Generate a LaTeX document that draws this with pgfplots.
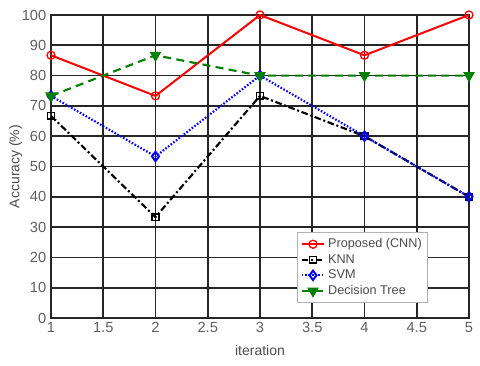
\documentclass[border=0pt]{standalone}
\usepackage{fontspec}
\setmainfont{Liberation Sans}
\usepackage{pgfplots}
\pgfplotsset{compat=1.18}
\definecolor{tickgray}{RGB}{95,95,95}
\definecolor{dtgreen}{RGB}{0,128,0}
\begin{document}
\begin{tikzpicture}[x=0.75pt,y=0.75pt]
\begin{axis}[
  scale only axis,
  width=313.5pt, height=227.25pt,
  xmin=1, xmax=5, ymin=0, ymax=100,
  xtick={1,1.5,2,2.5,3,3.5,4,4.5,5},
  xticklabels={1,1.5,2,2.5,3,3.5,4,4.5,5},
  ytick={0,10,...,100},
  grid=major,
  major grid style={black!85, line width=1.3pt},
  axis line style={black!85, line width=1.3pt},
  tick style={draw=none},
  /pgf/number format/assume math mode=true,
  tick label style={font=\fontsize{11}{13}\selectfont, text=tickgray},
  xlabel={iteration},
  ylabel={Accuracy (\%)},
  label style={font=\fontsize{10.5}{12}\selectfont, text=tickgray!80!black},
  xlabel style={at={(axis description cs:0.5,0)}, anchor=north, yshift=-17pt},
  ylabel style={at={(axis description cs:0,0.5)}, anchor=south, yshift=18pt},
  legend style={at={(rel axis cs:0.902,0.05)}, anchor=south east,
    font=\fontsize{9.5}{11}\selectfont, text=tickgray!80!black, draw=gray!60, fill=white,
    row sep=-0.5pt, inner sep=2.5pt},
  legend cell align=left,
]
\addplot[red, line width=1.5pt, mark=o, mark size=3pt, mark options={solid, line width=1pt}]
  coordinates {(1,86.7) (2,73.3) (3,100) (4,86.7) (5,100)};
\addlegendentry{Proposed (CNN)}
\addplot[black, line width=1.6pt, dash pattern=on 5pt off 2pt on 1.5pt off 2pt, mark=square, mark size=2.5pt, mark options={solid, line width=1.2pt}]
  coordinates {(1,66.7) (2,33.3) (3,73.3) (4,60) (5,40)};
\addlegendentry{KNN}
\addplot[blue, line width=1.6pt, dash pattern=on 1.2pt off 1.3pt, mark=diamond, mark size=3.5pt, mark options={solid, line width=1.5pt}]
  coordinates {(1,73.3) (2,53.3) (3,80) (4,60) (5,40)};
\addlegendentry{SVM}
\addplot[dtgreen, line width=1.6pt, dash pattern=on 6pt off 4pt, mark=triangle*, mark size=3.5pt, mark options={solid, rotate=180}]
  coordinates {(1,73.3) (2,86.7) (3,80) (4,80) (5,80)};
\addlegendentry{Decision Tree}
\end{axis}
\pgfresetboundingbox
\path[use as bounding box] (-51,-48) rectangle (429,318);
\end{tikzpicture}
\end{document}
